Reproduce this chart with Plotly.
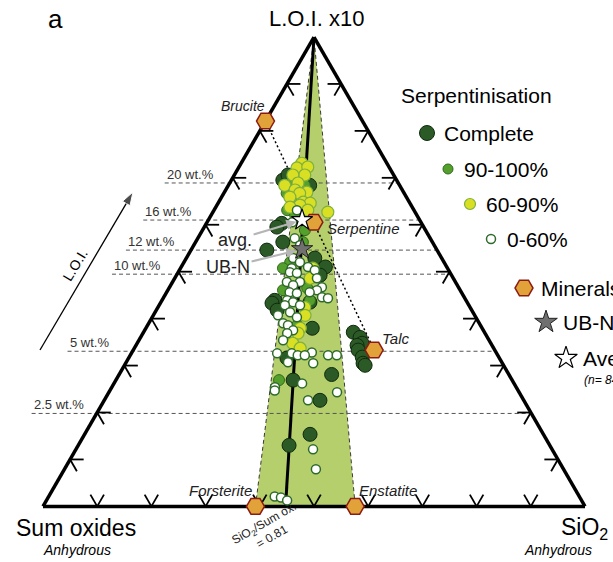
import numpy as np
import plotly.graph_objects as go

W, H = 613, 562
SQ3 = np.sqrt(3) / 2

# ---------------- data (ternary fractions) ----------------
# a = "L.O.I. x10" apex, c = "SiO2" apex, b = "Sum oxides" = 1 - a - c
complete_a = [0.695, 0.706, 0.684, 0.678, 0.603, 0.595, 0.546, 0.563, 0.529, 0.510,
              0.4925, 0.439, 0.433, 0.435, 0.418, 0.3795, 0.316, 0.281, 0.269, 0.226,
              0.1535, 0.130, 0.371, 0.360, 0.3475, 0.343, 0.333, 0.318, 0.305, 0.3006]
complete_c = [0.095, 0.099, 0.150, 0.120, 0.139, 0.134, 0.140, 0.161, 0.237, 0.266,
              0.265, 0.208, 0.206, 0.275, 0.223, 0.307, 0.292, 0.392, 0.327, 0.398,
              0.416, 0.389, 0.387, 0.405, 0.415, 0.408, 0.415, 0.430, 0.438, 0.444]

s90_a = [0.716, 0.695, 0.667, 0.6525, 0.631, 0.625, 0.5885, 0.563, 0.520, 0.5075,
         0.465, 0.4606, 0.439, 0.386, 0.269, 0.684, 0.6525, 0.6205, 0.684]
s90_c = [0.116, 0.117, 0.116, 0.135, 0.135, 0.167, 0.189, 0.198, 0.196, 0.189,
         0.255, 0.2125, 0.273, 0.276, 0.301, 0.113, 0.148, 0.155, 0.141]

s60_a = [0.731, 0.721, 0.723, 0.706, 0.706, 0.689, 0.684, 0.674, 0.6695, 0.667,
         0.659, 0.648, 0.646, 0.642, 0.6375, 0.631, 0.627, 0.5075, 0.486, 0.424,
         0.407, 0.3795, 0.369, 0.3475, 0.337]
s60_c = [0.112, 0.108, 0.127, 0.130, 0.108, 0.126, 0.104, 0.128, 0.152, 0.140,
         0.126, 0.156, 0.170, 0.153, 0.137, 0.173, 0.212, 0.244, 0.250, 0.271,
         0.280, 0.285, 0.286, 0.287, 0.306]

s0_a = [0.631, 0.6055, 0.571, 0.5565, 0.529, 0.520, 0.510, 0.5075, 0.503, 0.499,
        0.497, 0.486, 0.478, 0.478, 0.471, 0.467, 0.4606, 0.456, 0.456, 0.454,
        0.4456, 0.4435, 0.439, 0.435, 0.4286, 0.4286, 0.4136, 0.407, 0.403, 0.390,
        0.386, 0.375, 0.369, 0.354, 0.328, 0.326, 0.326, 0.322, 0.322, 0.322,
        0.322, 0.307, 0.305, 0.262, 0.254, 0.247, 0.243, 0.226, 0.1215, 0.079,
        0.021, 0.019, 0.0128]
s0_c = [0.153, 0.157, 0.179, 0.196, 0.197, 0.214, 0.234, 0.205, 0.250, 0.206,
        0.220, 0.2625, 0.211, 0.235, 0.226, 0.281, 0.275, 0.227, 0.264, 0.2415,
        0.292, 0.304, 0.231, 0.244, 0.260, 0.232, 0.249, 0.230, 0.267, 0.248,
        0.259, 0.274, 0.266, 0.266, 0.332, 0.269, 0.296, 0.309, 0.322, 0.365,
        0.381, 0.2985, 0.346, 0.347, 0.301, 0.304, 0.421, 0.376, 0.4375, 0.464,
        0.417, 0.4295, 0.444]

minerals = ["Brucite", "Serpentine", "Talc", "Forsterite", "Enstatite"]
mineral_a = [0.821, 0.6055, 0.333, 0.0, 0.0]
mineral_c = [0.0, 0.197, 0.4445, 0.392, 0.576]

avg_a, avg_c = [0.610], [0.173]      # average (n = 84)
ubn_a, ubn_c = [0.548], [0.204]      # UB-N reference

loi_labels = ["20 wt.%", "16 wt.%", "12 wt.%", "10 wt.%", "5 wt.%", "2.5 wt.%"]
loi_a = [0.689, 0.610, 0.546, 0.4947, 0.3305, 0.198]

ratio_c = 0.4475          # SiO2/Sum ox. = 0.81 at the base
tick_fracs = [0.1, 0.2, 0.3, 0.4, 0.5, 0.6, 0.7, 0.8, 0.9]

# ---------------- geometry ----------------
TL, TW, TTOP = 43.0, 542.0, 37.0
TH = TW * SQ3
TBOT = TTOP + TH
TCY = TTOP + TH / 2

FONT = "Liberation Sans, Arial, Helvetica, sans-serif"


def txy(a, c):
    """ternary (a, c) -> unit cartesian of the overlay axes"""
    a = np.asarray(a, float)
    c = np.asarray(c, float)
    return c + a / 2, a * SQ3


def b_of(a, c):
    return list(1 - np.asarray(a) - np.asarray(c))


fig = go.Figure()

# ---- green field: apex - Forsterite - Enstatite
gx, gy = txy([1.0, mineral_a[3], mineral_a[4], 1.0], [0.0, mineral_c[3], mineral_c[4], 0.0])
fig.add_trace(go.Scatter(x=gx, y=gy, mode="lines", fill="toself", fillcolor="#b5cf6c",
                         line=dict(color="#3a3a3a", width=1, dash="4px,3px"),
                         hoverinfo="skip", cliponaxis=False))

# ---- dashed LOI lines
for lab, a in zip(loi_labels, loi_a):
    x0 = a / 2 - 0.12
    x1 = 1 - a / 2
    fig.add_trace(go.Scatter(x=[x0, x1], y=[a * SQ3, a * SQ3], mode="lines",
                             line=dict(color="#555555", width=1, dash="4px,3px"),
                             hoverinfo="skip", cliponaxis=False))
    fig.add_annotation(x=x0, y=a * SQ3, xref="x", yref="y", text=lab, showarrow=False,
                       xanchor="left", yanchor="bottom", yshift=-1,
                       font=dict(size=13, color="#333333", family=FONT))

# ---- dotted tie line Brucite - Serpentine - Talc
dx, dy = txy([mineral_a[0], mineral_a[2]], [mineral_c[0], mineral_c[2]])
fig.add_trace(go.Scatter(x=dx, y=dy, mode="lines",
                         line=dict(color="black", width=1.5, dash="2px,2.5px"),
                         hoverinfo="skip"))

# ---- SiO2/Sum ox. = 0.81 line
lx, ly = txy([1.0, 0.0], [0.0, ratio_c])
fig.add_trace(go.Scatter(x=lx, y=ly, mode="lines", line=dict(color="black", width=3),
                         hoverinfo="skip"))

# ---- tick stubs (short grid-line pieces at both ends)
L = 0.025
sx, sy = [], []


def seg(a0, c0, a1, c1):
    x0, y0 = txy(a0, c0)
    x1, y1 = txy(a1, c1)
    sx.extend([float(x0), float(x1), None])
    sy.extend([float(y0), float(y1), None])


for t in tick_fracs:
    seg(t, 0, t, L)
    seg(t, 1 - t, t, 1 - t - L)
    seg(1 - t, 0, 1 - t - L, L)
    seg(0, 1 - t, L, 1 - t - L)
    seg(1 - t, t, 1 - t - L, t)
    seg(0, t, L, t)
fig.add_trace(go.Scatter(x=sx, y=sy, mode="lines", line=dict(color="black", width=1.8),
                         hoverinfo="skip"))

# ---- ternary data
def tern(a, c, size, fill, line_c, line_w, symbol="circle"):
    return go.Scatterternary(a=a, b=b_of(a, c), c=c, mode="markers", cliponaxis=False,
                             marker=dict(size=size, color=fill, symbol=symbol,
                                         line=dict(color=line_c, width=line_w)),
                             hoverinfo="skip")


fig.add_trace(tern(complete_a, complete_c, 14, "#2b5a26", "#102a0e", 1))
fig.add_trace(tern(s90_a, s90_c, 11, "#55a02d", "#2f6a1c", 1))
fig.add_trace(tern(s60_a, s60_c, 12, "#d9df22", "#7fb040", 1.2))
fig.add_trace(tern(s0_a, s0_c, 9, "white", "#2e6b2a", 1.5))
fig.add_trace(tern(mineral_a, mineral_c, 18, "#e2a23a", "#8a1c14", 1.5, "hexagon2"))
fig.add_trace(tern(ubn_a, ubn_c, 16, "#707070", "#222222", 1, "star"))
fig.add_trace(tern(avg_a, avg_c, 16, "white", "black", 1.2, "star"))

# ---- custom legend (pixel axes x2/y2)
leg = [
    (427, 133, 15, "#2b5a26", "#102a0e", 1, "circle", "Complete"),
    (448, 169, 10, "#55a02d", "#2f6a1c", 1, "circle", "90-100%"),
    (470, 204, 11, "#d9df22", "#7fb040", 1.2, "circle", "60-90%"),
    (491, 239, 9, "white", "#2e6b2a", 1.5, "circle", "0-60%"),
    (524, 288, 18, "#e2a23a", "#8a1c14", 1.5, "hexagon2", "Minerals"),
    (546, 322, 17, "#707070", "#222222", 1, "star", "UB-N"),
    (566, 358, 17, "white", "black", 1.2, "star", "Average"),
]
for (x, y, s, f, lc, lw, sym, lab) in leg:
    fig.add_trace(go.Scatter(x=[x], y=[y], xaxis="x2", yaxis="y2", mode="markers",
                             cliponaxis=False, hoverinfo="skip",
                             marker=dict(size=s, color=f, symbol=sym,
                                         line=dict(color=lc, width=lw))))
    fig.add_annotation(x=x + 14 if s < 12 else x + 15, y=y, xref="x2", yref="y2", text=lab,
                       showarrow=False, xanchor="left",
                       font=dict(size=21, color="black", family=FONT))


def A(text, x, y, size, xanchor="center", angle=0, color="black"):
    fig.add_annotation(x=x, y=y, xref="x2", yref="y2", text=text, showarrow=False,
                       xanchor=xanchor, textangle=angle,
                       font=dict(size=size, color=color, family=FONT))


A("Serpentinisation", 476, 95, 21)
A("<i>(n= 84)</i>", 582, 380, 12, xanchor="left")
A("a", 55, 19, 26)
A("L.O.I. x10", 316, 18, 22)
A("Sum oxides", 76, 528, 23)
A("<i>Anhydrous</i>", 77, 550, 14)
A("SiO<sub>2</sub>", 559, 528, 23, xanchor="left")
A("<i>Anhydrous</i>", 558, 550, 14)
A("<i>Brucite</i>", 243, 106, 14, color="#222222")
A("<i>Serpentine</i>", 325, 228, 15, xanchor="left", color="#222222")
A("<i>Talc</i>", 395, 338, 15, color="#222222")
A("<i>Forsterite</i>", 220, 490, 15, color="#222222")
A("<i>Enstatite</i>", 388, 490, 15, color="#222222")
A("SiO<sub>2</sub>/Sum ox.<br>= 0.81", 268, 530, 12, angle=-30, color="#222222")
A("L.O.I.", 75, 265, 14, angle=-59)

# L.O.I. direction arrow (line with arrow-head marker)
fig.add_trace(go.Scatter(x=[40, 133], y=[350, 192], xaxis="x2", yaxis="y2",
                         mode="lines+markers", cliponaxis=False, hoverinfo="skip",
                         line=dict(color="black", width=1.3),
                         marker=dict(symbol="arrow", size=[0, 14], angleref="previous",
                                     color="black")))

# leaders for avg. and UB-N
for (a, c, lab, ax, ay) in [(avg_a[0], avg_c[0], "avg.", -67, 20),
                            (ubn_a[0], ubn_c[0], "UB-N", -74, 18)]:
    X, Y = txy(a, c)
    fig.add_annotation(x=float(X), y=float(Y), xref="x", yref="y", ax=ax, ay=ay,
                       text=lab, showarrow=True, arrowhead=2, arrowsize=1, arrowwidth=2,
                       arrowcolor="#b5b5b5", standoff=6,
                       font=dict(size=18, color="#222222", family=FONT))

# ---------------- layout ----------------
yc = 1 - TCY / H
hh = (TH / 2 + 4) / H
axis_style = dict(showticklabels=False, ticks="", showgrid=False, showline=True,
                  linewidth=3.5, linecolor="black", title=dict(text=""),
                  layer="below traces", min=0)
fig.update_layout(
    width=W, height=H, margin=dict(l=0, r=0, t=0, b=0, pad=0),
    paper_bgcolor="white", plot_bgcolor="rgba(0,0,0,0)", showlegend=False,
    font=dict(family=FONT, color="black"),
    ternary=dict(domain=dict(x=[TL / W, (TL + TW) / W], y=[yc - hh, yc + hh]),
                 bgcolor="rgba(0,0,0,0)", sum=1,
                 aaxis=axis_style, baxis=axis_style, caxis=axis_style),
    xaxis=dict(domain=[0, 1], range=[-TL / TW, (W - TL) / TW], visible=False,
               fixedrange=True),
    yaxis=dict(domain=[0, 1], range=[(TBOT - H) / TW, TBOT / TW], visible=False,
               fixedrange=True),
    xaxis2=dict(domain=[0, 1], range=[0, W], visible=False, anchor="y2", fixedrange=True),
    yaxis2=dict(domain=[0, 1], range=[H, 0], visible=False, anchor="x2", fixedrange=True),
)

fig.write_html("out.html", config={"displayModeBar": False})
